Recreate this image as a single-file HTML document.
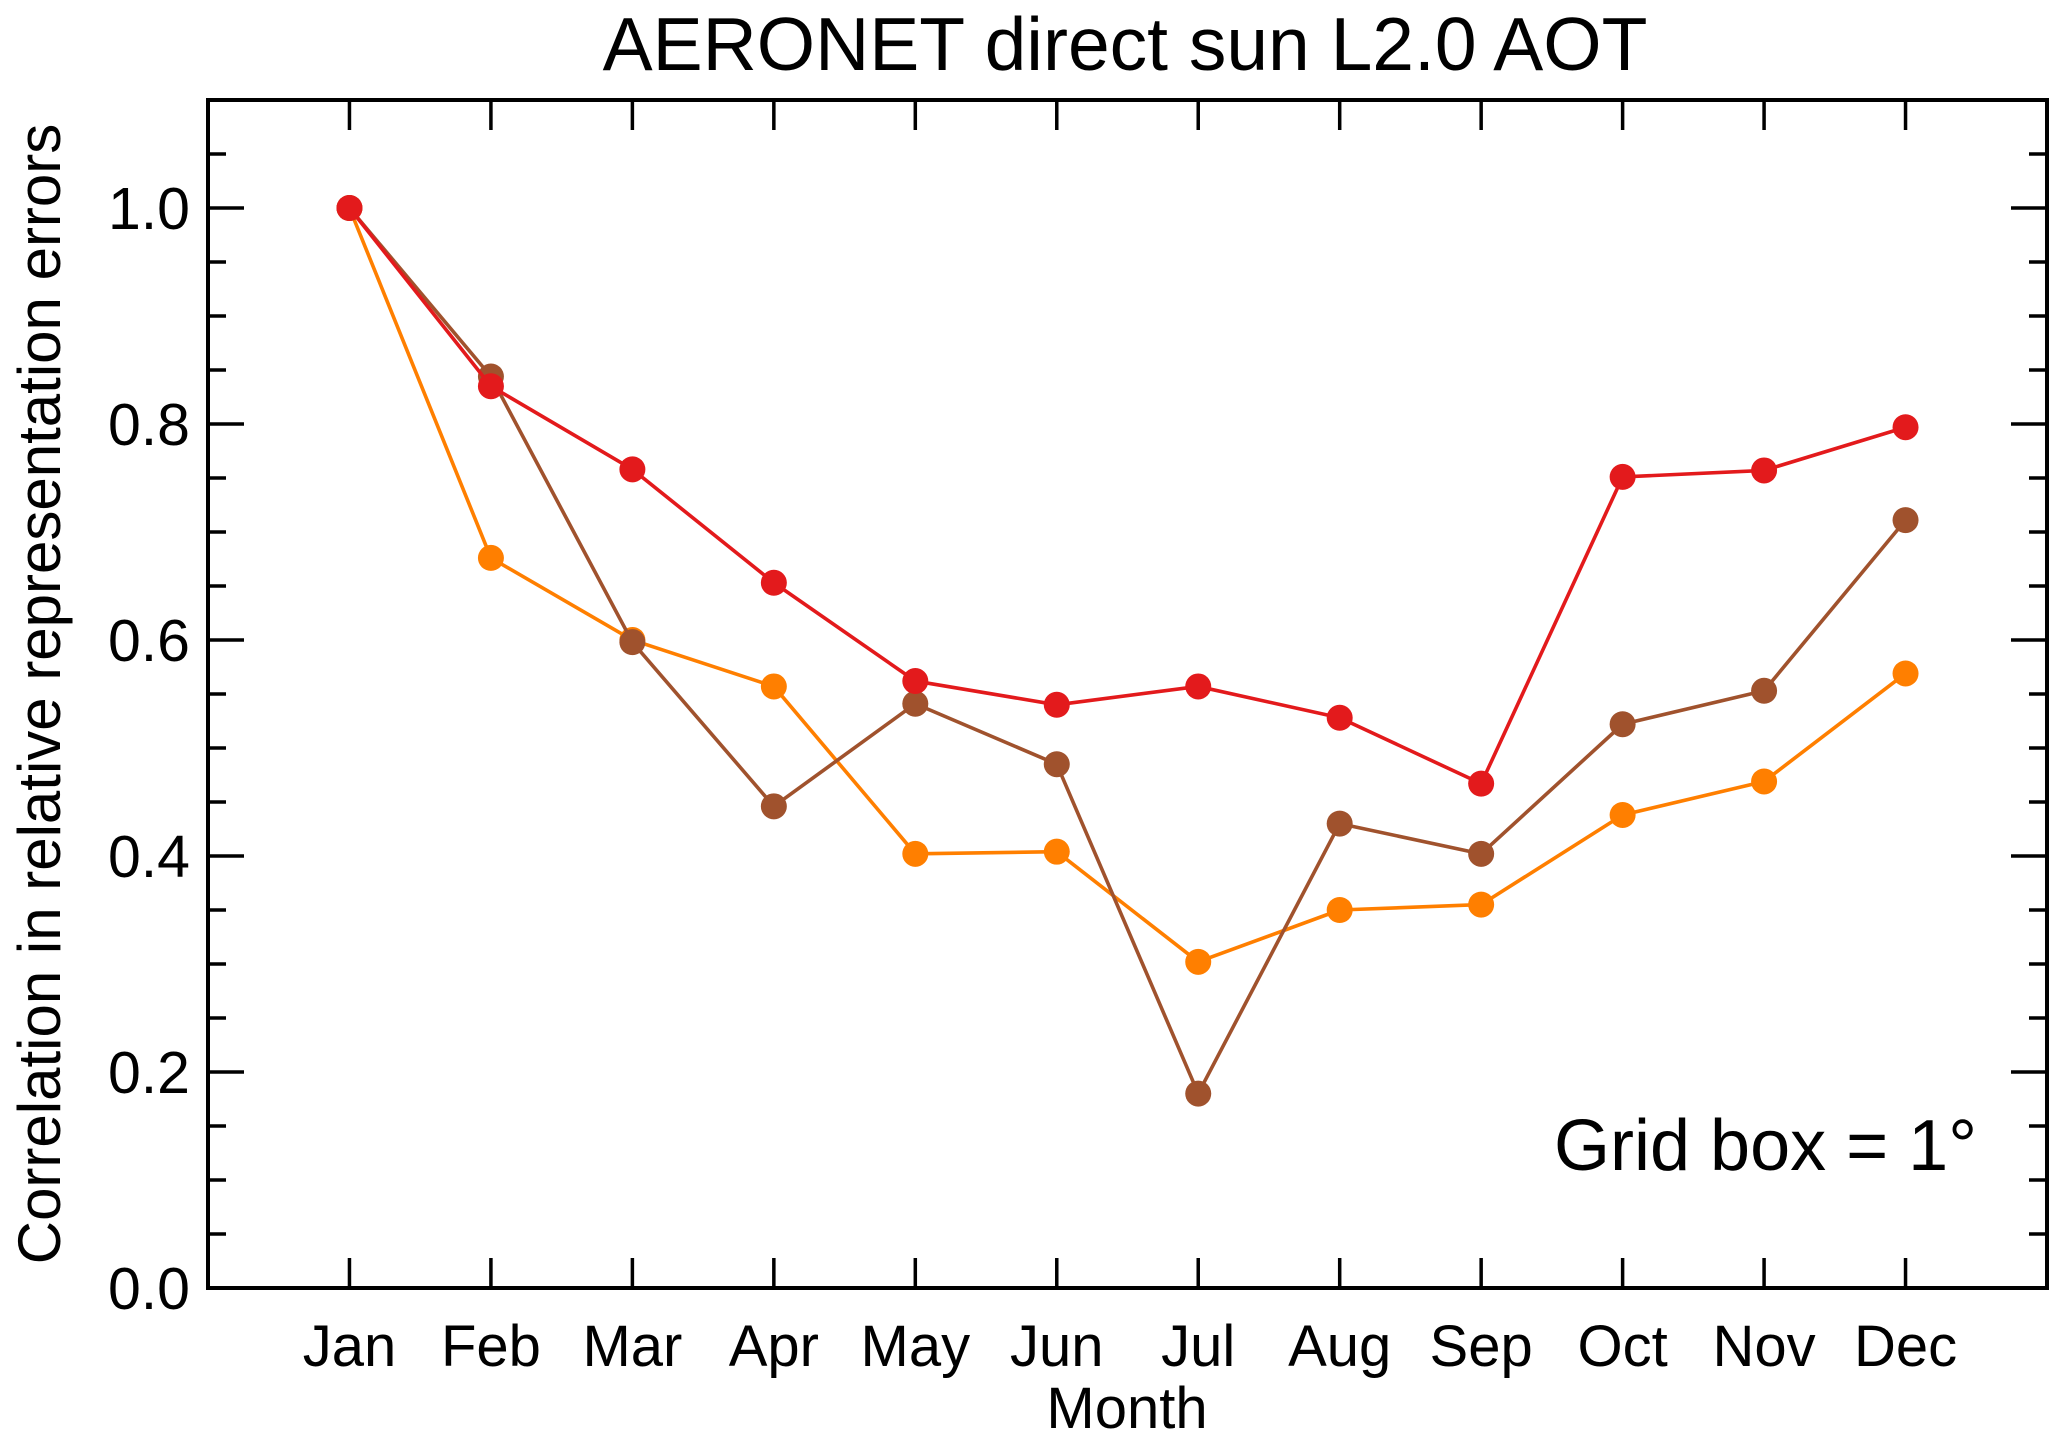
<!DOCTYPE html>
<html><head><meta charset="utf-8"><style>
html,body{margin:0;padding:0;background:#fff;}
svg{display:block;font-family:"Liberation Sans",Arial,sans-serif;}
</style></head><body>
<svg id="chart" width="2067" height="1448" viewBox="0 0 2067 1448">
<text x="1125" y="70" font-size="75" text-anchor="middle">AERONET direct sun L2.0 AOT</text>
<text transform="translate(60,694) rotate(-90)" font-size="60" text-anchor="middle">Correlation in relative representation errors</text>
<text x="1127" y="1428" font-size="58" text-anchor="middle">Month</text>
<text x="1977" y="1170" font-size="72" text-anchor="end">Grid box = 1°</text>
<g id="axes"></g>
<g id="series"></g>
</svg>
<script>
const months = ["Jan","Feb","Mar","Apr","May","Jun","Jul","Aug","Sep","Oct","Nov","Dec"];
const yTicks = [0.0,0.2,0.4,0.6,0.8,1.0];
const yTickLabels = ["0.0","0.2","0.4","0.6","0.8","1.0"];
const redValues = [1.0,0.835,0.758,0.653,0.562,0.540,0.557,0.528,0.467,0.751,0.757,0.797];
const brownValues = [1.0,0.844,0.598,0.446,0.541,0.485,0.180,0.430,0.402,0.522,0.553,0.711];
const orangeValues = [1.0,0.676,0.600,0.557,0.402,0.404,0.302,0.350,0.355,0.438,0.469,0.569];

const L=208,R=2047,T=100,B=1288;
const xMin=0,xMax=13,yMin=0,yMax=1.1;
const xs=v=>L+(v-xMin)/(xMax-xMin)*(R-L);
const ys=v=>B-(v-yMin)/(yMax-yMin)*(B-T);
const NS="http://www.w3.org/2000/svg";
const axes=document.getElementById('axes');
const ser=document.getElementById('series');
function mk(tag,attrs,parent){const e=document.createElementNS(NS,tag);for(const k in attrs)e.setAttribute(k,attrs[k]);parent.appendChild(e);return e;}

const frame=mk('rect',{x:L,y:T,width:R-L,height:B-T,fill:'none',stroke:'#000','stroke-width':4},axes);



months.forEach((m,i)=>{
  const x=xs(i+1);
  const t1=mk('line',{x1:x,x2:x,y1:B,y2:B-30,stroke:'#000','stroke-width':3.5},axes);
  
  
  const t2=mk('line',{x1:x,x2:x,y1:T,y2:T+30,stroke:'#000','stroke-width':3.5},axes);
  
  
  const lb=mk('text',{x:x,y:1366,'font-size':58,'text-anchor':'middle'},axes);
  lb.textContent=m;
  
  
});
for(let k=0;k<=22;k++){
  const v=k*0.05; const y=ys(v); const major=(k%4===0);
  const len=major?36:18;
  const a=mk('line',{x1:L,x2:L+len,y1:y,y2:y,stroke:'#000','stroke-width':3.5},axes);
  
  
  const b=mk('line',{x1:R,x2:R-len,y1:y,y2:y,stroke:'#000','stroke-width':3.5},axes);
  
  
}
yTicks.forEach((v,i)=>{
  const lb=mk('text',{x:190,y:ys(v)+21,'font-size':59,'text-anchor':'end'},axes);
  lb.textContent=yTickLabels[i];
  
  
});

function drawSeries(vals,color,name){
  const g=mk('g',{},ser);
  
  
  const pts=vals.map((v,i)=>xs(i+1)+','+ys(v)).join(' ');
  const pl=mk('polyline',{points:pts,fill:'none',stroke:color,'stroke-width':3.6,'stroke-linejoin':'round'},g);
  
  
  vals.forEach((v,i)=>{
    const c=mk('circle',{cx:xs(i+1),cy:ys(v),r:13,fill:color},g);
    
    
  });
}
drawSeries(orangeValues,'#ff7f00','orange');
drawSeries(brownValues,'#a0522d','brown');
drawSeries(redValues,'#e31a1c','red');
</script>
</body></html>
